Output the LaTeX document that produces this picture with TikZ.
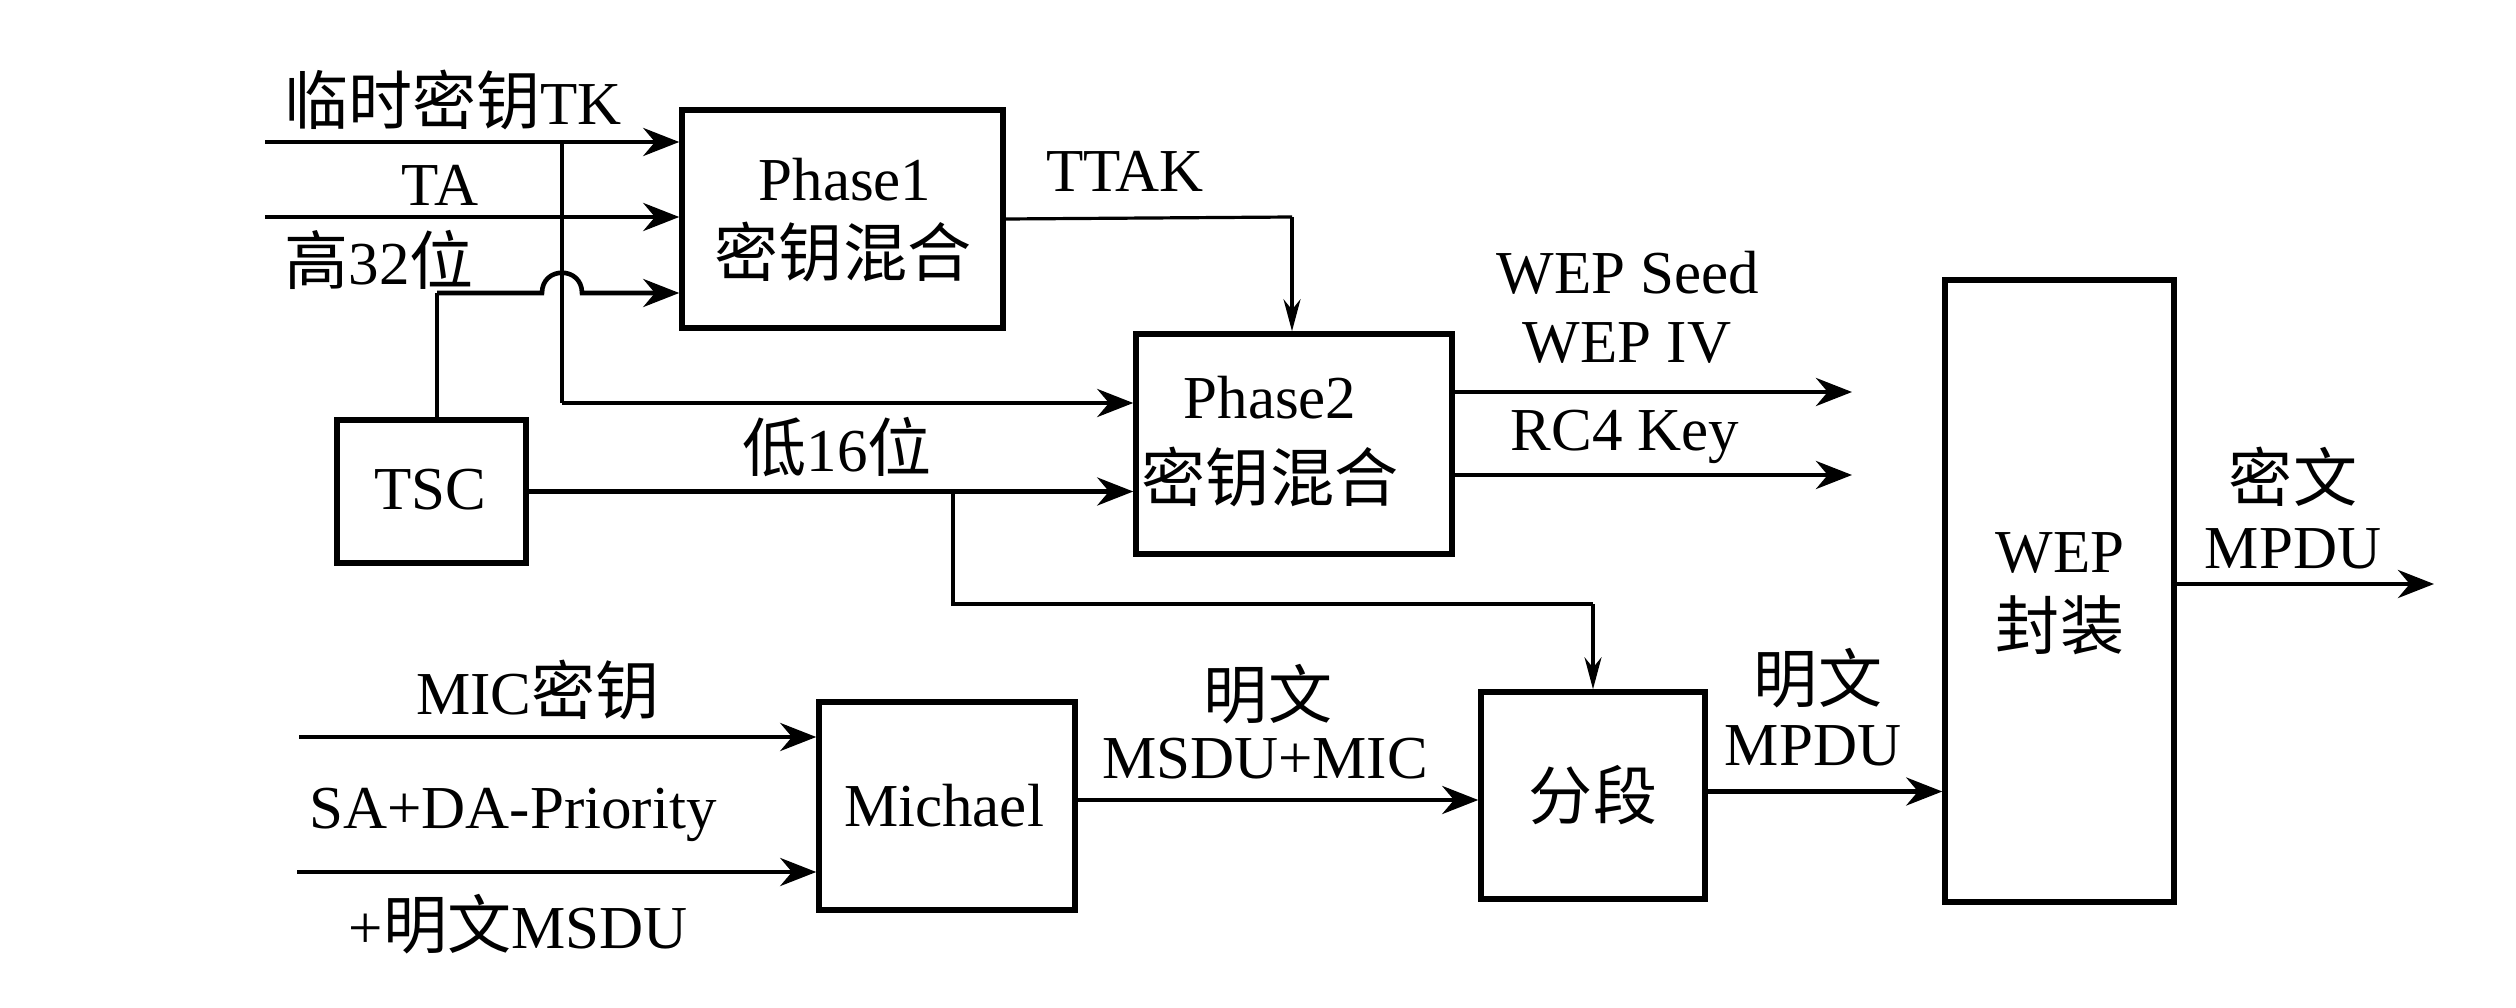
\documentclass[tikz,border=0pt]{standalone}
\usepackage{fontspec}
\setmainfont{Liberation Serif}
\newfontfamily\cjk{Noto Sans CJK SC}[Scale=1.05]
\usetikzlibrary{arrows.meta}
\begin{document}
\begin{tikzpicture}[x=1pt,y=-1pt,
  box/.style={draw, line width=5.5pt, inner sep=0pt},
  arr/.style={line width=4.6pt, -{Stealth[length=36pt,width=28pt]}},
  thinarr/.style={line width=3.2pt, -{Stealth[length=32pt,width=17pt]}},
  thinline/.style={line width=3.2pt},
  lbl/.style={font=\fontsize{61}{70}\selectfont, inner sep=0pt, align=center},
]
\useasboundingbox[fill=white] (0,0) rectangle (2516,1008);

% boxes
\node[box, minimum width=321pt, minimum height=218pt] (p1) at (842.5,219) {};
\node[box, minimum width=316pt, minimum height=220pt] (p2) at (1294,444) {};
\node[box, minimum width=189pt, minimum height=143pt] (tsc) at (431.5,491.5) {};
\node[box, minimum width=256pt, minimum height=208pt] (mich) at (947,806) {};
\node[box, minimum width=224pt, minimum height=207pt] (seg) at (1593,795.5) {};
\node[box, minimum width=229pt, minimum height=622pt] (wep) at (2059.5,591) {};

% box texts
\node[lbl] (p1a) at (845,180) {Phase1};
\node[lbl] (p1b) at (843,252) {\cjk 密钥混合};
\node[lbl] (p2a) at (1270,398) {Phase2};
\node[lbl] (p2b) at (1270,477) {\cjk 密钥混合};
\node[lbl] (tsct) at (430,490) {TSC};
\node[lbl] (micht) at (944,806) {Michael};
\node[lbl] (segt) at (1593,795) {\cjk 分段};
\node[lbl] (wepa) at (2060,553) {WEP};
\node[lbl] (wepb) at (2060,625) {\cjk 封装};

% coordinates for free ends
\coordinate (tkin) at (265,142);
\coordinate (tain) at (265,217);
\coordinate (tkv) at (562,142);
\coordinate (tkd) at (562,403);
\coordinate (tscup) at (437,293);
\coordinate (h1) at (542,293);
\coordinate (h2) at (582,293);
\coordinate (ttk) at (1292,217);
\coordinate (br) at (953,491);
\coordinate (brd) at (953,604);
\coordinate (brr) at (1593,604);
\coordinate (o1a) at (1452,392);
\coordinate (o1b) at (1852,392);
\coordinate (o2a) at (1452,475);
\coordinate (o2b) at (1852,475);
\coordinate (mk) at (299,737);
\coordinate (sa) at (297,872);
\coordinate (out) at (2434,584);

% connectors
\draw[arr] (tkin) -- (tkin -| p1.west);
\draw[arr] (tain) -- (tain -| p1.west);
\draw[thinline] (tkv) -- (tkd);
\draw[arr] (tkd) -- (tkd -| p2.west);
\draw[thinline] (tsc.north -| tscup) -- (tscup);
\draw[arr] (tscup) -- (h1) .. controls (542,266) and (582,266) .. (h2) -- (h2 -| p1.west);
\draw[arr] (tsc.east) -- (tsc.east -| p2.west);
\draw[thinline] (br) -- (brd) -- (brr);
\draw[thinarr] (brr) -- (seg.north);
\draw[thinline] (p1.east) -- (ttk);
\draw[thinarr] (ttk) -- (ttk |- p2.north);
\draw[arr] (o1a) -- (o1b);
\draw[arr] (o2a) -- (o2b);
\draw[arr] (mk) -- (mk -| mich.west);
\draw[arr] (sa) -- (sa -| mich.west);
\draw[arr] ([yshift=6pt]mich.east) -- ([yshift=6pt]mich.east -| seg.west);
\draw[arr] ([yshift=4pt]seg.east) -- ([yshift=4pt]seg.east -| wep.west);
\draw[arr] (wep.east |- out) -- (out);

% labels
\node[lbl] (tkl) at (453,100) {{\cjk 临时密钥}TK};
\node[lbl] (tal) at (440,185) {TA};
\node[lbl] (g32) at (379,260) {{\cjk 高}32{\cjk 位}};
\node[lbl] (d16) at (837,447) {{\cjk 低}16{\cjk 位}};
\node[lbl] (ttakl) at (1125,171) {TTAK};
\node[lbl] (seedl) at (1628,273) {WEP Seed};
\node[lbl] (ivl) at (1627,343) {WEP IV};
\node[lbl] (rc4l) at (1625,437) {RC4 Key};
\node[lbl] (cta) at (2293,477) {\cjk 密文};
\node[lbl] (ctb) at (2293,549) {MPDU};
\node[lbl] (mkl) at (538,690) {MIC{\cjk 密钥}};
\node[lbl] (sal) at (513,815) {SA+DA-Priority};
\node[lbl] (msl) at (518,924) {+{\cjk 明文}MSDU};
\node[lbl] (pta) at (1268,694) {\cjk 明文};
\node[lbl] (ptb) at (1265,759) {MSDU+MIC};
\node[lbl] (pma) at (1818,678) {\cjk 明文};
\node[lbl] (pmb) at (1813,746) {MPDU};
\end{tikzpicture}
\end{document}
